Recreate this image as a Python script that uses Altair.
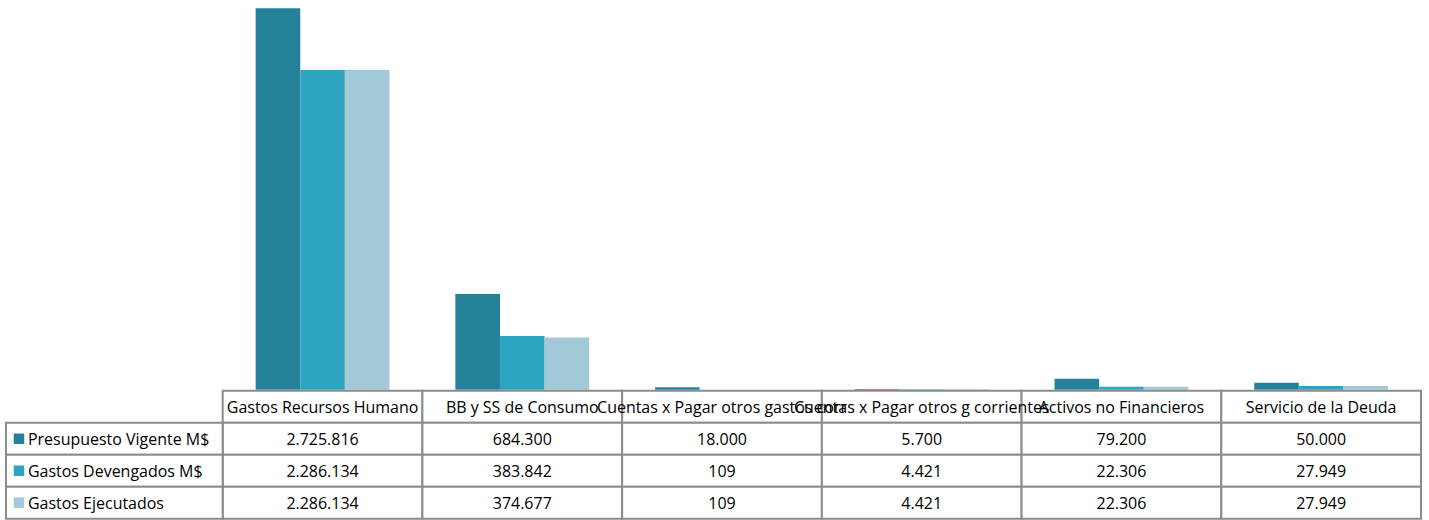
import altair as alt
import pandas as pd

categories = [
    "Gastos Recursos Humano",
    "BB y SS de Consumo",
    "Cuentas x Pagar otros gastos corr",
    "Cuentas x Pagar otros g corrientes",
    "Activos no Financieros",
    "Servicio de la Deuda",
]
series = ["Presupuesto Vigente M$", "Gastos Devengados M$", "Gastos Ejecutados"]
presupuesto = [2725816, 684300, 18000, 5700, 79200, 50000]
devengados = [2286134, 383842, 109, 4421, 22306, 27949]
ejecutados = [2286134, 374677, 109, 4421, 22306, 27949]
colors = ["#23829A", "#2DA4C1", "#A3C9D9"]

FONT = "Open Sans"
FS = 16
GRID = "#8c8c8c"

values = [presupuesto, devengados, ejecutados]
rows = []
for s, vals in zip(series, values):
    for c, v in zip(categories, vals):
        rows.append({"category": c, "series": s, "value": v,
                     "label": f"{v:,}".replace(",", "."), "row": s})
df = pd.DataFrame(rows)

row_order = ["header"] + series
cells = pd.DataFrame([{"category": c, "row": r} for r in row_order for c in categories])
header = pd.DataFrame({"category": categories, "row": ["header"] * len(categories)})
legend_rows = pd.DataFrame({"series": series, "row": series})

color_scale = alt.Scale(domain=series, range=colors)

bars = alt.Chart(df).mark_bar().encode(
    x=alt.X("category:N", sort=categories, axis=None,
            scale=alt.Scale(domain=categories, paddingInner=0.33, paddingOuter=0.165)),
    xOffset=alt.XOffset("series:N", sort=series,
                        scale=alt.Scale(domain=series, paddingInner=0, paddingOuter=0)),
    y=alt.Y("value:Q", axis=None,
            scale=alt.Scale(domain=[0, max(presupuesto)], nice=False, zero=True)),
    color=alt.Color("series:N", scale=color_scale, legend=None),
).properties(width=1200, height=382)

tx = alt.X("category:N", sort=categories, axis=None,
           scale=alt.Scale(domain=categories, paddingInner=0, paddingOuter=0))
ty = alt.Y("row:N", axis=None,
           scale=alt.Scale(domain=row_order, paddingInner=0, paddingOuter=0))

cell_layer = alt.Chart(cells).mark_rect(fill="white", stroke=GRID, strokeWidth=2).encode(
    x=tx, y=ty)
left_cells = alt.Chart(legend_rows).mark_rect(fill="white", stroke=GRID, strokeWidth=2).encode(
    x=alt.value(-217), x2=alt.value(0), y=ty)
header_text = alt.Chart(header).mark_text(font=FONT, fontSize=FS, color="black",
                                         align="center", baseline="middle", dy=1).encode(
    x=tx, y=ty, text="category:N")
value_text = alt.Chart(df).mark_text(font=FONT, fontSize=FS, color="black",
                                    align="center", baseline="middle", dy=1).encode(
    x=tx, y=ty, text="label:N")
swatches = alt.Chart(legend_rows).mark_square(size=110, opacity=1).encode(
    x=alt.value(-204), y=ty,
    color=alt.Color("series:N", scale=color_scale, legend=None))
row_labels = alt.Chart(legend_rows).mark_text(font=FONT, fontSize=FS, color="black",
                                             align="left", baseline="middle", dy=1).encode(
    x=alt.value(-195), y=ty, text="series:N")

table = alt.layer(cell_layer, left_cells, header_text, value_text, swatches, row_labels).properties(
    width=1200, height=128)

chart = alt.vconcat(bars, table, spacing=0).resolve_scale(
    x="independent", y="independent"
).properties(
    padding={"left": 5, "top": 8, "right": 7, "bottom": 1}
).configure_view(stroke=None)

chart.save("out.html", embed_options={"renderer": "svg", "actions": False})
